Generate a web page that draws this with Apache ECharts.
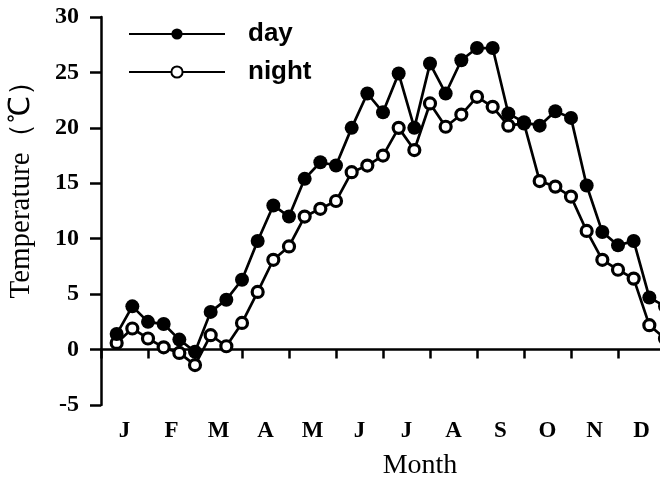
<!DOCTYPE html>
<html>
<head>
<meta charset="utf-8">
<script src="https://cdn.jsdelivr.net/npm/echarts@6/dist/echarts.min.js"></script>
<style>
html,body{margin:0;padding:0;background:#fff;}
#chart{width:660px;height:483px;}
</style>
</head>
<body>
<div id="chart"></div>
<script>
// Month labels (category axis)
var months = ['J','F','M','A','M','J','J','A','S','O','N','D'];
// Dekad index (3 per month), 1..36
var dekads = [1,2,3,4,5,6,7,8,9,10,11,12,13,14,15,16,17,18,19,20,21,22,23,24,25,26,27,28,29,30,31,32,33,34,35,36];
// Day temperature (°C)
var dayTemp = [1.4,3.9,2.5,2.3,0.9,-0.2,3.4,4.5,6.3,9.8,13.0,12.0,15.4,16.9,16.6,20.0,23.1,21.4,24.9,20.0,25.8,23.1,26.1,27.2,27.2,21.3,20.5,20.2,21.5,20.9,14.8,10.6,9.4,9.8,4.7,3.9];
// Night temperature (°C)
var nightTemp = [0.6,1.9,1.0,0.2,-0.3,-1.4,1.3,0.3,2.4,5.2,8.1,9.3,12.0,12.7,13.4,16.0,16.6,17.5,20.0,18.0,22.2,20.1,21.2,22.8,21.9,20.2,20.4,15.2,14.7,13.8,10.7,8.1,7.2,6.4,2.2,1.0];
var yTicks = {min:-5, max:30, interval:5};

function pairs(vals){ return vals.map(function(v,i){ return [dekads[i], v]; }); }

var chart = echarts.init(document.getElementById('chart'), null, {renderer:'canvas'});
var serif = 'Liberation Serif';
chart.setOption({
  animation:false,
  backgroundColor:'#fff',
  grid:{left:101, top:17, width:564, height:388, containLabel:false, outerBoundsMode:'none'},
  legend:{
    orient:'vertical', left:128, top:21, padding:0, itemWidth:96, itemHeight:14, itemGap:12,
    data:['day','night'],
    textStyle:{fontFamily:'Liberation Sans', fontWeight:'bold', fontSize:26, color:'#000', padding:[0,0,0,18], lineHeight:24}
  },
  xAxis:[{
    type:'category', data:months, boundaryGap:true, gridIndex:0,
    axisLine:{lineStyle:{color:'#000', width:2.5}},
    axisTick:{show:true, inside:false, length:9, alignWithLabel:false, lineStyle:{color:'#000', width:2.5}},
    axisLabel:{color:'#000', fontFamily:serif, fontWeight:'bold', fontSize:23, margin:15},
    name:'Month', nameLocation:'middle', nameGap:47,
    nameTextStyle:{color:'#000', fontFamily:serif, fontSize:28, padding:[0,0,0,74]},
    splitLine:{show:false}
  },{
    type:'value', min:0, max:36, show:false, gridIndex:0
  }],
  yAxis:{
    type:'value', min:yTicks.min, max:yTicks.max, interval:yTicks.interval,
    axisLine:{show:true, lineStyle:{color:'#000', width:2.5}},
    axisTick:{show:true, inside:false, length:11, lineStyle:{color:'#000', width:2.5}},
    axisLabel:{color:'#000', fontFamily:serif, fontWeight:'bold', fontSize:24, margin:22},
    splitLine:{show:false},
    name:'Temperature（℃）', nameLocation:'middle', nameGap:65,
    nameTextStyle:{color:'#000', fontFamily:serif, fontSize:29, padding:[0,0,0,56]}
  },
  series:[{
    name:'night', type:'line', xAxisIndex:1, data:pairs(nightTemp),
    symbol:'circle', symbolSize:11, showAllSymbol:true,
    lineStyle:{color:'#000', width:2.7},
    itemStyle:{color:'#fff', borderColor:'#000', borderWidth:3.2}
  },{
    name:'day', type:'line', xAxisIndex:1, data:pairs(dayTemp),
    symbol:'circle', symbolSize:14, showAllSymbol:true,
    lineStyle:{color:'#000', width:2.7},
    itemStyle:{color:'#000', borderColor:'#000', borderWidth:0}
  }]
});
</script>
</body>
</html>
